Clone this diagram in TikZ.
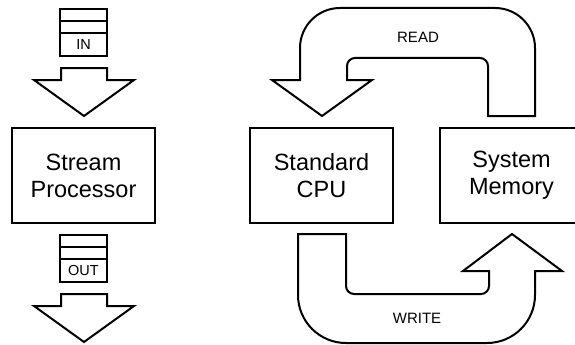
\documentclass[tikz,border=0pt]{standalone}
\usepackage{fontspec}
\setmainfont{Liberation Sans}
\begin{document}
\begin{tikzpicture}[x=1pt,y=-1pt,line width=2pt,
procblock/.style={draw,rectangle,inner sep=0pt,minimum width=143pt,minimum height=95pt,align=center,font=\fontsize{23.5}{27}\selectfont},
slot/.style={draw,rectangle,inner sep=0pt,minimum width=47pt,minimum height=12pt},
slotlabel/.style={slot,minimum height=23pt,font=\fontsize{14.5}{16}\selectfont},
flowlabel/.style={inner sep=0pt,font=\fontsize{15}{17}\selectfont}]
\useasboundingbox (0,0) rectangle (575,345);
\clip (0,0) rectangle (575,345);
% stream processor column
\draw (83.5,15) node[slot] (in1) {};
\draw (83.5,27) node[slot] (in2) {};
\draw (83.5,44.5) node[slotlabel] (in3) {IN};
\draw (83.5,175.5) node[procblock] (SP) {Stream\\Processor};
\draw (83.5,241) node[slot] (out1) {};
\draw (83.5,253) node[slot] (out2) {};
\draw (83.5,270.5) node[slotlabel] (out3) {OUT};

\draw (61,68) -- (107,68) -- (107,80) -- (134,80) -- (84,116) -- (34,80) -- (61,80) -- cycle;
\draw (61,294) -- (107,294) -- (107,306) -- (134,306) -- (84,342) -- (34,306) -- (61,306) -- cycle;

% cpu and memory
\draw (321.5,175.5) node[procblock] (CPU) {Standard\\CPU};
\draw (511.5,175.5) node[procblock] (MEM) {System\\Memory};

% read
\draw (535,116) -- (535,48) arc[start angle=0,end angle=-90,radius=40]
  -- (340,8) arc[start angle=-90,end angle=-180,radius=40]
  -- (300,80) -- (272,80) -- (322,116) -- (372,80) -- (347,80)
  -- (347,66) arc[start angle=180,end angle=270,radius=8]
  -- (480,58) arc[start angle=270,end angle=360,radius=8]
  -- (488,116) -- cycle;
\draw (418,37) node[flowlabel] (read) {READ};

% write
\draw (298,234) -- (346,234)
  -- (346,286) arc[start angle=180,end angle=90,radius=8]
  -- (481,294) arc[start angle=90,end angle=0,radius=8]
  -- (489,271) -- (463,271) -- (512,234) -- (562,271) -- (535,271)
  -- (535,295) arc[start angle=0,end angle=90,radius=48]
  -- (346,343) arc[start angle=90,end angle=180,radius=48]
  -- cycle;
\draw (417,318) node[flowlabel] (write) {WRITE};
\end{tikzpicture}
\end{document}
